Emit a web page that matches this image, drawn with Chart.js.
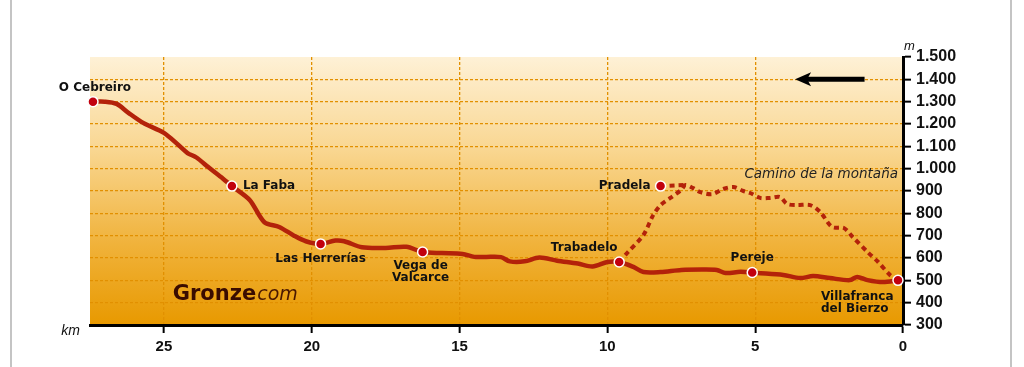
<!DOCTYPE html>
<html>
<head>
<meta charset="utf-8">
<script src="https://cdn.jsdelivr.net/npm/chart.js@4"></script>
<style>
  html, body { margin: 0; padding: 0; background: #fff; }
  #wrap { position: relative; width: 1024px; height: 367px; }
  .frame { position: absolute; top: 0; width: 2px; height: 367px; background: #c4c4c4; }
  canvas { position: absolute; left: 0; top: 0; }
</style>
</head>
<body>
<div id="wrap">
  <div class="frame" style="left:10px"></div>
  <div class="frame" style="left:1010px"></div>
  <canvas id="profile" width="1024" height="367"></canvas>
</div>
<script>
// ── perfil principal (km hasta Villafranca, altitud m) ──
const mainKm = [27.4, 27.0, 26.6, 26.2, 25.7, 25.0, 24.5, 24.2, 23.9, 23.5, 23.0, 22.7, 22.1, 21.6, 21.1, 20.6, 20.2, 19.7,
  19.2, 18.9, 18.3, 17.5, 16.8, 16.25, 15.6, 14.9, 14.5, 14.1, 13.6, 13.3, 12.8, 12.3, 11.7, 11.0, 10.5, 10.0, 9.6,
  9.12, 8.78, 8.2, 7.5, 6.8, 6.3, 6.0, 5.5, 5.1, 4.93, 4.05, 3.48, 3.04, 2.47, 1.8, 1.55, 1.2, 0.68, 0.17];
const mainElev = [1300, 1300, 1290, 1250, 1205, 1160, 1105, 1070, 1050, 1007, 955, 922, 860, 760, 739, 700, 675, 663,
  678, 675, 648, 645, 650, 627, 622, 618, 605, 605, 604, 585, 585, 602, 588, 575, 562, 582, 582,
  560, 537, 537, 546, 548, 546, 533, 538, 535, 533, 524, 510, 519, 510, 501, 515, 501, 492, 500];

// ── camino de la montaña ──
const mountKm = [9.6, 9.3, 8.78, 8.45, 8.2, 7.87, 7.5, 7.36, 7.1, 6.86, 6.45, 6.08, 5.74, 5.4, 5.17, 4.83, 4.5, 4.16,
  3.92, 3.58, 3.14, 2.8, 2.4, 2.0, 1.7, 1.2, 0.84, 0.44, 0.17];
const mountElev = [582, 627, 703, 792, 837, 869, 905, 927, 913, 895, 886, 909, 918, 900, 891, 869, 869, 873,
  842, 837, 837, 806, 739, 734, 694, 627, 582, 524, 500];
const pradelaKm = [8.2, 7.36];
const pradelaElev = [922, 927];

// ── localidades ──
const places = ['O Cebreiro', 'La Faba', 'Las Herrerías', 'Vega de\nValcarce', 'Trabadelo', 'Pradela', 'Pereje', 'Villafranca\ndel Bierzo'];
const placeKm = [27.4, 22.7, 19.7, 16.25, 9.6, 8.2, 5.1, 0.17];
const placeElev = [1300, 922, 663, 627, 582, 922, 535, 500];

const kmTicks = [0, 5, 10, 15, 20, 25];
const toXY = (xs, ys) => xs.map((x, i) => ({ x, y: ys[i] }));

const RED = '#b3220a';
const GRID = '#e29000';

// label placement: dx, dy, align
const labelPos = {
  'O Cebreiro': [2, -14, 'center'],
  'La Faba': [11, 0, 'left'],
  'Las Herrerías': [0, 15, 'center'],
  'Vega de\nValcarce': [-2, 14, 'center'],
  'Trabadelo': [-35, -14, 'center'],
  'Pradela': [-10, 0, 'right'],
  'Pereje': [0, -15, 'center'],
  'Villafranca\ndel Bierzo': [-77, 17, 'left'],
};

const backdrop = {
  id: 'backdrop',
  beforeDraw(chart) {
    const { ctx, chartArea: a } = chart;
    const g = ctx.createLinearGradient(0, a.top, 0, a.bottom);
    g.addColorStop(0, '#fef1d6');
    g.addColorStop(0.35, '#f9d690');
    g.addColorStop(0.7, '#f0b23a');
    g.addColorStop(1, '#e89900');
    ctx.save();
    ctx.fillStyle = g;
    ctx.fillRect(a.left, a.top, a.right - a.left, a.bottom - a.top);
    ctx.restore();
  }
};

const annotations = {
  id: 'annotations',
  afterDraw(chart) {
    const { ctx } = chart;
    const xs = chart.scales.x, ys = chart.scales.y;
    const meta = chart.getDatasetMeta(0);
    ctx.save();
    ctx.fillStyle = '#111';
    ctx.textBaseline = 'middle';
    ctx.font = 'bold 12px "DejaVu Sans"';
    places.forEach((name, i) => {
      const pt = meta.data[i];
      const [dx, dy, align] = labelPos[name];
      ctx.textAlign = align;
      name.split('\n').forEach((line, j) => ctx.fillText(line, pt.x + dx, pt.y + dy + j * 12));
    });

    // camino de la montaña
    ctx.font = 'italic 13.5px "DejaVu Sans"';
    ctx.fillStyle = '#222';
    ctx.textAlign = 'right';
    ctx.fillText('Camino de la montaña', xs.getPixelForValue(0.17), ys.getPixelForValue(972));

    // Gronze
    ctx.textAlign = 'left';
    ctx.textBaseline = 'alphabetic';
    ctx.font = 'bold 21px "DejaVu Sans"';
    ctx.fillStyle = '#3a0c00';
    const gx = xs.getPixelForValue(24.7), gy = ys.getPixelForValue(412);
    ctx.fillText('Gronze', gx, gy);
    const w = ctx.measureText('Gronze').width;
    ctx.font = 'italic 19px "DejaVu Sans"';
    ctx.fillStyle = '#4a1800';
    ctx.fillText('com', gx + w + 1, gy);

    // unidades
    ctx.fillStyle = '#111';
    ctx.font = 'italic 14px "Liberation Sans"';
    ctx.textAlign = 'right';
    ctx.textBaseline = 'middle';
    ctx.fillText('km', xs.getPixelForValue(27.5) - 10, ys.bottom + 6);
    ctx.font = 'italic 13px "Liberation Sans"';
    ctx.textAlign = 'left';
    ctx.fillText('m', xs.right + 1, ys.top - 11);

    // flecha de sentido
    const ay = ys.getPixelForValue(1400);
    const x0 = xs.getPixelForValue(1.3), x1 = xs.getPixelForValue(3.65);
    ctx.strokeStyle = '#000';
    ctx.lineWidth = 5;
    ctx.beginPath();
    ctx.moveTo(x0, ay);
    ctx.lineTo(x1 + 10, ay);
    ctx.stroke();
    ctx.fillStyle = '#000';
    ctx.beginPath();
    ctx.moveTo(x1, ay);
    ctx.lineTo(x1 + 16, ay - 7);
    ctx.lineTo(x1 + 12, ay);
    ctx.lineTo(x1 + 16, ay + 7);
    ctx.closePath();
    ctx.fill();
    ctx.restore();
  }
};

new Chart(document.getElementById('profile').getContext('2d'), {
  type: 'line',
  data: {
    datasets: [
      {
        label: 'Localidades',
        data: toXY(placeKm, placeElev),
        showLine: false,
        pointRadius: 5,
        pointBackgroundColor: '#c2000e',
        pointBorderColor: '#fff',
        pointBorderWidth: 1.5,
        clip: false,
      },
      {
        label: 'Pradela',
        data: toXY(pradelaKm, pradelaElev),
        borderColor: RED,
        borderWidth: 4,
        borderDash: [5, 4],
        pointRadius: 0,
        clip: false,
      },
      {
        label: 'Camino de la montaña',
        data: toXY(mountKm, mountElev),
        borderColor: RED,
        borderWidth: 4,
        borderDash: [5, 4],
        tension: 0.3,
        pointRadius: 0,
        clip: false,
      },
      {
        label: 'Camino',
        data: toXY(mainKm, mainElev),
        borderColor: RED,
        borderWidth: 4.5,
        tension: 0.3,
        pointRadius: 0,
        clip: false,
      },
    ]
  },
  options: {
    responsive: false,
    animation: false,
    events: [],
    layout: { padding: { left: 90, top: 57, right: 51, bottom: 0 } },
    plugins: { legend: { display: false }, tooltip: { enabled: false } },
    scales: {
      x: {
        type: 'linear',
        reverse: true,
        min: 0,
        max: 27.5,
        afterBuildTicks: s => { s.ticks = kmTicks.map(v => ({ value: v })); },
        afterFit: s => { s.height = 42; },
        grid: {
          color: c => c.tick && c.tick.value === 0 ? 'transparent' : GRID,
          lineWidth: 1.3,
          tickColor: '#000',
          tickLength: 8,
          tickWidth: 2,
        },
        border: { display: true, color: '#000', width: 3, dash: [3, 2] },
        ticks: {
          color: '#111',
          padding: 5,
          font: { family: 'Liberation Sans', size: 15, weight: 'bold' },
        },
      },
      y: {
        position: 'right',
        min: 300,
        max: 1500,
        afterFit: s => { s.width = 70; },
        grid: {
          color: c => c.tick && (c.tick.value === 300 || c.tick.value === 1500) ? 'transparent' : GRID,
          lineWidth: 1.3,
          tickColor: '#000',
          tickLength: 8,
          tickWidth: 2,
        },
        border: { display: true, color: '#000', width: 3, dash: [3, 2] },
        ticks: {
          stepSize: 100,
          color: '#111',
          padding: 5,
          font: { family: 'Liberation Sans', size: 16, weight: 'bold' },
          callback: v => v.toLocaleString('de-DE'),
        },
      },
    },
  },
  plugins: [backdrop, annotations],
});
</script>
</body>
</html>
